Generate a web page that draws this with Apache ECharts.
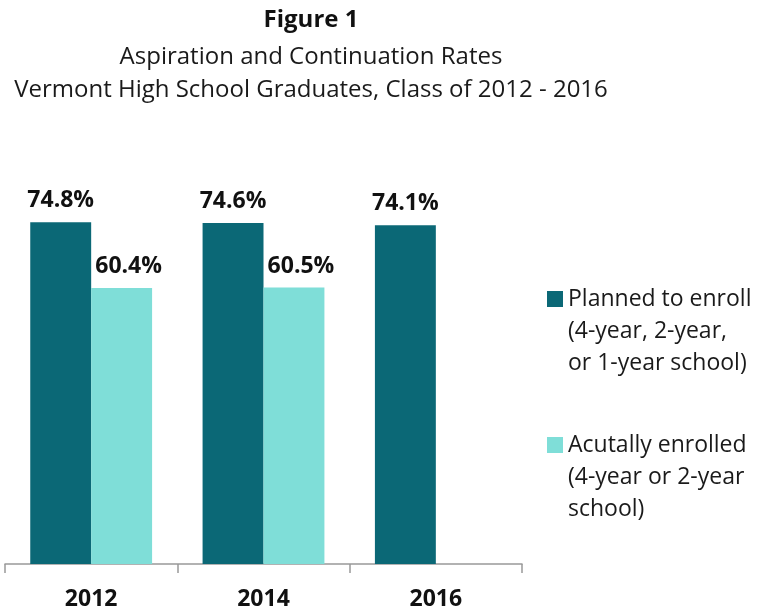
<!DOCTYPE html>
<html>
<head>
<meta charset="utf-8">
<script src="https://cdn.jsdelivr.net/npm/echarts@6/dist/echarts.min.js"></script>
<style>
  html, body { margin: 0; padding: 0; background: #fff; }
  #chart { width: 757px; height: 611px; }
</style>
</head>
<body>
<div id="chart"></div>
<script>
// data
var years = ['2012', '2014', '2016']
var planned = [74.8, 74.6, 74.1]
var enrolled = [60.4, 60.5, null]
var legendText = {
    'Planned to enroll': 'Planned to enroll\n(4-year, 2-year,\nor 1-year school)',
    'Acutally enrolled': 'Acutally enrolled\n(4-year or 2-year\nschool)'
}

var font = '"Open Sans", "Noto Sans", sans-serif'
var dark = '#0b6876'
var light = '#7fded8'

var myChart = echarts.init(document.getElementById('chart'))

// icon sits on the first text line: pad two blank lines above
function legendFmt(name) {
    return '\n\n' + legendText[name]
}

var legendBase = {
    orient: 'vertical',
    left: 547,
    padding: 0,
    icon: 'rect',
    itemWidth: 16,
    itemHeight: 16,
    selectedMode: false,
    formatter: legendFmt,
    textStyle: { fontFamily: font, fontSize: 23, color: '#1a1a1a', lineHeight: 32 }
}

function pct(p) {
    return p.value == null ? '' : p.value.toFixed(1) + '%'
}

var option = {
    animation: false,
    title: {
        text: 'Figure 1',
        subtext: 'Aspiration and Continuation Rates\nVermont High School Graduates, Class of 2012 - 2016',
        left: 311,
        top: 8,
        textAlign: 'center',
        padding: 0,
        itemGap: 9,
        textStyle: { fontFamily: font, fontSize: 24, fontWeight: 'bold', color: '#111' },
        subtextStyle: { fontFamily: font, fontSize: 24, color: '#1a1a1a', lineHeight: 33 }
    },
    legend: [
        Object.assign({}, legendBase, { data: ['Planned to enroll'], top: 219 }),
        Object.assign({}, legendBase, { data: ['Acutally enrolled'], top: 365 })
    ],
    grid: { left: 5, right: 235, top: 107, bottom: 44 },
    xAxis: {
        type: 'category',
        data: years,
        axisLine: { lineStyle: { color: '#999', width: 1.5 } },
        axisTick: { show: true, length: 9, lineStyle: { color: '#999', width: 1.5 } },
        axisLabel: { fontFamily: font, fontSize: 23, fontWeight: 'bold', color: '#111', margin: 24 }
    },
    yAxis: {
        type: 'value',
        min: 0,
        max: 100,
        show: false,
        splitLine: { show: false }
    },
    series: [
        {
            name: 'Planned to enroll',
            type: 'bar',
            data: planned,
            barGap: 0,
            barCategoryGap: '29.3%',
            itemStyle: { color: dark },
            label: {
                show: true, position: 'top', distance: 10, formatter: pct,
                fontFamily: font, fontSize: 23, fontWeight: 'bold', color: '#111'
            }
        },
        {
            name: 'Acutally enrolled',
            type: 'bar',
            data: enrolled,
            itemStyle: { color: light },
            label: {
                show: true, position: 'top', distance: 10, offset: [7, 0], formatter: pct,
                fontFamily: font, fontSize: 23, fontWeight: 'bold', color: '#111'
            }
        }
    ]
}
myChart.setOption(option)
</script>
</body>
</html>
